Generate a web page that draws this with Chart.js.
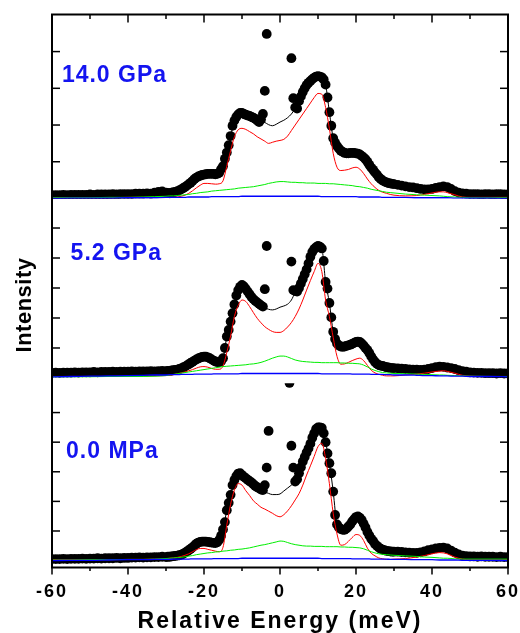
<!DOCTYPE html>
<html><head><meta charset="utf-8">
<script src="https://cdn.jsdelivr.net/npm/chart.js@4/dist/chart.umd.min.js"></script>
<style>html,body{margin:0;padding:0;background:#fff;}canvas{display:block;}</style>
</head><body>
<canvas id="c" width="520" height="633"></canvas>
<script>
// ---------------- DATA ----------------
const dotEnergy = [
 -60,-59,-58,-57,-56,-55,-54,-53,-52,-51,
 -50,-49,-48,-47,-46,-45,-44,-43,-42,-41,
 -40,-39,-38,-37,-36,-35,-34,-33,-32,-31,
 -30,-29.5,-29,-28.5,-28,-27.5,-27,-26.5,-26,-25.5,
 -25,-24.5,-24,-23.5,-23,-22.5,-22,-21.5,-21,-20.5,
 -20,-19.5,-19,-18.5,-18,-17.5,-17,-16.5,-16,-15.5,
 -15,-14.5,-14,-13.5,-13,-12.5,-12,-11.5,-11,-10.5,
 -10,-9.5,-9,-8.5,-8,-7.5,-7,-6.5,-6,-5.5,
 -5,-4.5,-4,-3.5,-3,-2.5,-2,-1.5,-1,-0.5,
 0,0.5,1,1.5,2,2.5,3,3.5,4,4.5,
 5,5.5,6,6.5,7,7.5,8,8.5,9,9.5,
 10,10.5,11,11.5,12,12.5,13,13.5,14,14.5,
 15,15.5,16,16.5,17,17.5,18,18.5,19,19.5,
 20,20.5,21,21.5,22,22.5,23,23.5,24,24.5,
 25,25.5,26,26.5,27,27.5,28,28.5,29,29.5,
 30,31,32,33,34,35,36,37,38,39,
 40,41,42,43,44,45,46,47,48,49,
 50,51,52,53,54,55,56,57,58,59,60
];
const lineEnergy = [
 -60,-55,-50,-45,-40,-36,-33,
 -30,-29,-28,-27,-26,-25,-24,-23,-22,-21,
 -20,-19,-18,-17,-16,-15,-14,-13,-12,-11,
 -10,-9,-8,-7,-6,-5,-4,-3,-2,-1,
 0,1,2,3,4,5,6,7,8,9,
 10,11,12,13,14,15,16,17,18,19,
 20,21,22,23,24,25,26,27,28,29,
 30,33,36,38,40,42,43,44,46,48,50,55,60
];
const panelLabels = ['14.0 GPa', '5.2 GPa', '0.0 MPa'];

// ----- 14.0 GPa -----
const dots14 = [
 0.09,0.09,0.09,0.10,0.09,0.10,0.10,0.10,0.10,0.10,
 0.11,0.10,0.11,0.11,0.11,0.11,0.12,0.11,0.12,0.12,
 0.12,0.12,0.13,0.13,0.13,0.14,0.13,0.16,0.18,0.19,
 0.16,0.15,0.14,0.16,0.17,0.18,0.20,0.22,0.25,0.28,
 0.31,0.35,0.39,0.43,0.48,0.53,0.57,0.60,0.62,0.64,
 0.65,0.66,0.67,0.67,0.67,0.67,0.66,0.67,0.70,0.80,
 0.88,1.08,1.25,1.45,1.70,1.98,2.12,2.22,2.29,2.33,
 2.33,2.30,2.28,2.26,2.25,2.22,2.20,2.17,2.12,2.08,
 2.15,2.30,2.93,4.48,null,null,null,null,null,null,
 null,null,null,null,null,null,3.82,2.73,2.48,2.45,
 2.65,2.78,2.90,3.00,3.09,3.15,3.20,3.25,3.29,3.32,
 3.33,3.32,3.30,3.24,3.10,2.75,2.35,1.98,1.64,1.52,
 1.43,1.36,1.30,1.27,1.24,1.23,1.23,1.24,1.24,1.24,
 1.23,1.22,1.20,1.16,1.12,1.07,1.00,0.92,0.84,0.78,
 0.71,0.65,0.58,0.53,0.49,0.46,0.44,0.42,0.41,0.40,
 0.39,0.37,0.35,0.33,0.31,0.30,0.28,0.26,0.25,0.25,
 0.26,0.29,0.31,0.33,0.31,0.26,0.20,0.16,0.14,0.13,
 0.12,0.12,0.12,0.11,0.12,0.12,0.11,0.12,0.12,0.11,0.11
];
const fit14 = [
 0.09,0.10,0.10,0.11,0.12,0.13,0.15,
 0.15,0.15,0.17,0.20,0.25,0.31,0.39,0.48,0.57,0.62,
 0.65,0.67,0.67,0.66,0.70,0.90,1.25,1.70,2.12,2.29,
 2.33,2.28,2.25,2.20,2.13,2.10,2.07,2.01,1.98,2.02,
 2.08,2.13,2.20,2.30,2.45,2.62,2.90,3.09,3.20,3.29,
 3.33,3.30,3.10,2.35,1.64,1.42,1.30,1.24,1.23,1.24,
 1.23,1.20,1.12,1.00,0.84,0.71,0.58,0.49,0.44,0.41,
 0.39,0.33,0.28,0.25,0.26,0.31,0.33,0.31,0.20,0.14,0.12,0.12,0.11
];
const red14 = [
 0.02,0.02,0.02,0.02,0.03,0.03,0.03,
 0.03,0.03,0.03,0.04,0.06,0.09,0.14,0.21,0.29,0.36,
 0.41,0.41,0.40,0.39,0.40,0.48,0.88,1.30,1.68,1.87,
 1.91,1.88,1.82,1.76,1.68,1.62,1.56,1.50,1.53,1.56,
 1.58,1.61,1.70,1.85,2.00,2.15,2.30,2.45,2.60,2.75,
 2.86,2.84,2.48,1.90,1.23,0.85,0.76,0.77,0.79,0.83,
 0.85,0.80,0.68,0.53,0.40,0.30,0.22,0.17,0.14,0.11,
 0.09,0.07,0.08,0.11,0.15,0.18,0.18,0.16,0.10,0.04,0.03,0.03,0.03
];
const green14 = [
 0.02,0.02,0.02,0.03,0.03,0.04,0.05,
 0.06,0.07,0.07,0.08,0.09,0.10,0.11,0.13,0.14,0.16,
 0.17,0.18,0.20,0.21,0.22,0.23,0.24,0.25,0.26,0.28,
 0.29,0.30,0.31,0.32,0.34,0.36,0.38,0.41,0.43,0.45,
 0.46,0.46,0.45,0.44,0.44,0.43,0.43,0.42,0.42,0.42,
 0.41,0.41,0.41,0.40,0.40,0.39,0.38,0.37,0.36,0.35,
 0.33,0.32,0.30,0.28,0.25,0.23,0.21,0.19,0.17,0.16,
 0.15,0.12,0.10,0.09,0.08,0.07,0.06,0.05,0.04,0.03,0.02,0.02,0.02
];
const blue14 = [
 0.00,0.01,0.01,0.01,0.02,0.02,0.02,
 0.03,0.03,0.03,0.03,0.03,0.03,0.04,0.04,0.04,0.04,
 0.04,0.04,0.05,0.05,0.05,0.05,0.05,0.05,0.05,0.05,
 0.06,0.06,0.06,0.06,0.06,0.06,0.06,0.06,0.06,0.06,
 0.06,0.06,0.06,0.06,0.06,0.06,0.06,0.06,0.06,0.06,
 0.06,0.05,0.05,0.05,0.05,0.05,0.05,0.05,0.05,0.05,
 0.05,0.04,0.04,0.04,0.04,0.04,0.04,0.03,0.03,0.03,
 0.03,0.03,0.02,0.02,0.02,0.02,0.02,0.02,0.01,0.01,0.01,0.01,0.00
];

// ----- 5.2 GPa -----
const dots52 = [
 0.17,0.18,0.17,0.18,0.18,0.18,0.19,0.18,0.19,0.19,
 0.19,0.20,0.19,0.20,0.20,0.20,0.21,0.20,0.21,0.21,
 0.21,0.22,0.21,0.22,0.22,0.22,0.23,0.22,0.23,0.24,
 0.23,0.24,0.24,0.25,0.26,0.27,0.28,0.30,0.32,0.35,
 0.38,0.42,0.46,0.50,0.54,0.58,0.62,0.65,0.68,0.70,
 0.71,0.71,0.69,0.66,0.62,0.58,0.55,0.53,0.52,0.56,
 0.66,1.00,1.38,1.60,1.88,2.16,2.45,2.75,2.93,3.04,
 3.10,3.05,2.97,2.88,2.79,2.70,2.63,2.57,2.52,2.47,
 2.42,2.38,2.96,4.40,null,null,null,null,null,null,
 null,null,null,null,null,null,3.88,2.93,2.90,2.88,
 3.00,3.15,3.30,3.46,3.62,3.82,4.04,4.20,4.30,4.36,
 4.40,4.38,4.32,3.90,3.20,2.98,2.50,2.02,1.54,1.30,
 1.15,1.08,1.05,1.04,1.05,1.07,1.09,1.11,1.14,1.17,
 1.20,1.21,1.20,1.15,1.08,1.00,0.93,0.83,0.72,0.62,
 0.53,0.47,0.43,0.41,0.40,0.38,0.36,0.35,0.34,0.33,
 0.33,0.32,0.31,0.30,0.29,0.28,0.28,0.27,0.28,0.30,
 0.33,0.36,0.38,0.37,0.35,0.33,0.30,0.26,0.23,0.21,
 0.19,0.18,0.17,0.17,0.16,0.16,0.16,0.15,0.16,0.15,0.15
];
const fit52 = [
 0.17,0.18,0.19,0.20,0.21,0.22,0.22,
 0.23,0.24,0.26,0.28,0.32,0.38,0.46,0.54,0.62,0.68,
 0.71,0.69,0.62,0.55,0.52,0.66,1.38,1.88,2.45,2.93,
 3.10,2.97,2.79,2.63,2.52,2.42,2.34,2.29,2.27,2.30,
 2.36,2.40,2.46,2.60,2.85,3.00,3.30,3.62,4.04,4.30,
 4.40,4.32,3.20,2.50,1.54,1.15,1.05,1.05,1.09,1.14,
 1.20,1.20,1.08,0.93,0.72,0.53,0.43,0.40,0.36,0.34,
 0.33,0.30,0.28,0.28,0.33,0.38,0.37,0.35,0.30,0.23,0.19,0.16,0.15
];
const red52 = [
 0.05,0.05,0.05,0.05,0.06,0.06,0.07,
 0.08,0.09,0.11,0.14,0.17,0.20,0.24,0.28,0.33,0.37,
 0.38,0.36,0.32,0.29,0.29,0.40,0.85,1.40,2.05,2.42,
 2.60,2.55,2.38,2.18,1.99,1.84,1.71,1.62,1.55,1.52,
 1.52,1.58,1.70,1.85,2.05,2.30,2.60,2.93,3.25,3.55,
 3.82,3.55,2.60,2.05,1.35,0.72,0.46,0.47,0.52,0.58,
 0.63,0.66,0.58,0.42,0.26,0.17,0.12,0.09,0.07,0.07,
 0.07,0.10,0.13,0.16,0.20,0.23,0.24,0.22,0.16,0.09,0.06,0.05,0.05
];
const green52 = [
 0.04,0.04,0.04,0.05,0.05,0.05,0.06,
 0.08,0.10,0.12,0.14,0.16,0.18,0.20,0.22,0.24,0.26,
 0.28,0.30,0.32,0.34,0.36,0.38,0.39,0.40,0.41,0.42,
 0.43,0.44,0.46,0.47,0.49,0.52,0.56,0.61,0.66,0.70,
 0.73,0.73,0.70,0.65,0.60,0.57,0.55,0.54,0.53,0.52,
 0.52,0.51,0.51,0.51,0.51,0.51,0.50,0.50,0.49,0.49,
 0.48,0.47,0.43,0.37,0.30,0.25,0.21,0.18,0.17,0.16,
 0.15,0.14,0.13,0.12,0.11,0.10,0.10,0.09,0.08,0.07,0.06,0.05,0.05
];
const blue52 = [
 0.04,0.05,0.06,0.07,0.08,0.09,0.10,
 0.10,0.11,0.11,0.11,0.12,0.12,0.12,0.12,0.13,0.13,
 0.13,0.13,0.13,0.14,0.14,0.14,0.14,0.14,0.14,0.14,
 0.15,0.15,0.15,0.15,0.15,0.15,0.15,0.15,0.15,0.15,
 0.15,0.15,0.15,0.15,0.15,0.15,0.15,0.15,0.15,0.15,
 0.15,0.14,0.14,0.14,0.14,0.14,0.14,0.14,0.14,0.13,
 0.13,0.13,0.13,0.13,0.12,0.12,0.12,0.12,0.11,0.11,
 0.10,0.10,0.09,0.08,0.08,0.07,0.07,0.07,0.06,0.06,0.05,0.05,0.04
];

// ----- 0.0 MPa -----
const dots00 = [
 0.05,0.05,0.05,0.06,0.05,0.06,0.06,0.06,0.07,0.06,
 0.07,0.07,0.08,0.07,0.08,0.08,0.08,0.09,0.08,0.09,
 0.09,0.10,0.10,0.11,0.10,0.11,0.11,0.12,0.12,0.13,
 0.12,0.13,0.13,0.14,0.15,0.16,0.17,0.18,0.20,0.23,
 0.27,0.31,0.35,0.40,0.45,0.51,0.57,0.61,0.63,0.64,
 0.64,0.64,0.63,0.62,0.61,0.60,0.59,0.62,0.70,0.84,
 1.05,1.30,1.70,1.95,2.22,2.55,2.72,2.85,2.94,2.95,
 2.89,2.83,2.78,2.73,2.68,2.64,2.58,2.52,2.48,2.44,
 2.40,2.38,2.55,3.14,4.38,null,null,null,null,null,
 null,null,null,null,null,6.00,3.88,3.14,2.67,2.75,
 2.95,3.15,3.35,3.50,3.65,3.79,3.95,4.15,4.30,4.45,
 4.50,4.50,4.48,4.30,4.00,3.62,3.29,2.95,2.33,1.54,
 1.22,1.12,1.07,1.04,1.04,1.08,1.15,1.22,1.32,1.40,
 1.47,1.49,1.45,1.37,1.25,1.12,0.97,0.85,0.74,0.66,
 0.56,0.50,0.44,0.40,0.37,0.35,0.33,0.32,0.31,0.30,
 0.30,0.30,0.29,0.28,0.27,0.26,0.26,0.28,0.31,0.35,
 0.38,0.41,0.43,0.44,0.41,0.34,0.27,0.21,0.17,0.15,
 0.14,0.14,0.13,0.14,0.13,0.13,0.13,0.12,0.13,0.12,0.12
];
const fit00 = [
 0.05,0.06,0.07,0.08,0.09,0.10,0.12,
 0.12,0.13,0.15,0.17,0.20,0.27,0.35,0.45,0.57,0.63,
 0.64,0.63,0.61,0.59,0.70,1.05,1.70,2.22,2.72,2.94,
 2.89,2.78,2.68,2.58,2.48,2.40,2.32,2.27,2.23,2.23,
 2.25,2.35,2.45,2.55,2.67,2.95,3.35,3.65,3.95,4.30,
 4.50,4.48,4.00,3.29,2.33,1.22,1.07,1.04,1.15,1.32,
 1.47,1.45,1.25,0.97,0.74,0.56,0.44,0.37,0.33,0.31,
 0.30,0.28,0.26,0.31,0.38,0.43,0.44,0.41,0.27,0.17,0.14,0.13,0.12
];
const red00 = [
 0.03,0.03,0.03,0.03,0.04,0.04,0.05,
 0.06,0.08,0.09,0.11,0.14,0.18,0.23,0.30,0.37,0.41,
 0.41,0.38,0.35,0.32,0.30,0.45,1.20,1.90,2.38,2.60,
 2.55,2.36,2.20,2.02,1.91,1.80,1.74,1.67,1.60,1.52,
 1.48,1.55,1.68,1.85,2.05,2.26,2.55,2.89,3.20,3.52,
 3.85,3.96,3.45,2.60,1.60,0.90,0.52,0.54,0.65,0.78,
 0.88,0.85,0.68,0.42,0.25,0.16,0.09,0.06,0.04,0.04,
 0.05,0.07,0.12,0.17,0.23,0.27,0.26,0.23,0.12,0.05,0.03,0.03,0.03
];
const green00 = [
 0.02,0.02,0.03,0.03,0.04,0.04,0.05,
 0.07,0.08,0.09,0.10,0.11,0.13,0.15,0.17,0.20,0.22,
 0.24,0.26,0.27,0.29,0.30,0.32,0.33,0.35,0.36,0.38,
 0.39,0.41,0.43,0.46,0.49,0.52,0.54,0.57,0.60,0.63,
 0.66,0.65,0.61,0.57,0.54,0.52,0.50,0.49,0.49,0.48,
 0.48,0.48,0.47,0.47,0.47,0.47,0.46,0.46,0.45,0.45,
 0.44,0.43,0.40,0.35,0.30,0.26,0.23,0.21,0.20,0.19,
 0.18,0.16,0.14,0.12,0.11,0.09,0.08,0.08,0.06,0.05,0.05,0.05,0.05
];
const blue00 = [
 0.00,0.01,0.01,0.02,0.03,0.03,0.04,
 0.04,0.04,0.05,0.05,0.05,0.05,0.05,0.06,0.06,0.06,
 0.06,0.06,0.06,0.07,0.07,0.07,0.07,0.07,0.07,0.07,
 0.08,0.08,0.08,0.08,0.08,0.08,0.08,0.08,0.08,0.08,
 0.08,0.08,0.08,0.08,0.08,0.08,0.08,0.08,0.08,0.08,
 0.08,0.07,0.07,0.07,0.07,0.07,0.07,0.07,0.07,0.06,
 0.06,0.06,0.06,0.06,0.05,0.05,0.05,0.05,0.05,0.04,
 0.04,0.04,0.03,0.03,0.03,0.02,0.02,0.02,0.02,0.01,0.01,0.01,0.00
];

const xTickStep = 10;

// ---------------- BUILD ----------------
const FONT = '"Liberation Sans", Arial, Helvetica, sans-serif';
const panels = [
  {axis: 'yTop', label: panelLabels[0], dots: dots14, fit: fit14, red: red14, green: green14, blue: blue14,
   range: [-0.01, 5.01], labelAt: [-57.4, 3.16]},
  {axis: 'yMid', label: panelLabels[1], dots: dots52, fit: fit52, red: red52, green: green52, blue: blue52,
   range: [-0.173, 5.973], labelAt: [-55.1, 3.93]},
  {axis: 'yBot', label: panelLabels[2], dots: dots00, fit: fit00, red: red00, green: green00, blue: blue00,
   range: [-0.233, 5.993], labelAt: [-56.3, 3.46]}
];

function pairs(xs, ys) {
  const out = [];
  for (let i = 0; i < xs.length; i++) if (ys[i] !== null && ys[i] !== undefined) out.push({x: xs[i], y: ys[i]});
  return out;
}
const datasets = [];
panels.forEach(p => {
  const lineDs = (vals, color, w) => ({
    data: pairs(lineEnergy, vals), yAxisID: p.axis, showLine: true, pointRadius: 0,
    borderColor: color, borderWidth: w, cubicInterpolationMode: 'monotone', order: 0
  });
  datasets.push(lineDs(p.blue, '#0000ff', 1.3));
  datasets.push(lineDs(p.green, '#00ee00', 1));
  datasets.push(lineDs(p.red, '#ff0000', 1));
  datasets.push(lineDs(p.fit, '#000000', 1));
  datasets.push({
    data: pairs(dotEnergy, p.dots), yAxisID: p.axis, showLine: false,
    pointRadius: 4.9, pointBorderWidth: 0, backgroundColor: '#000', borderColor: '#000', order: 1
  });
});

const scales = {
  x: {
    type: 'linear', min: -60, max: 60, position: 'bottom',
    grid: {display: false, drawTicks: false}, border: {display: false},
    ticks: {stepSize: xTickStep, autoSkip: false, maxRotation: 0, padding: 14, color: '#000',
      font: {family: FONT, size: 18, weight: 'bold'},
      callback: v => (v % 20 === 0 ? String(v) : '')},
    title: {display: true, text: 'Relative Energy (meV)', color: '#000', padding: {top: 0, bottom: 0},
      font: {family: FONT, size: 23, weight: 'bold', lineHeight: 1}},
    afterFit: s => { s.height = 65.5; s.paddingLeft = 0; s.paddingRight = 0; }
  }
};
// stacked y axes; last-defined is placed on top
[...panels].reverse().forEach((p, i) => {
  scales[p.axis] = {
    type: 'linear', position: 'left', stack: 'panels', stackWeight: 1, weight: i + 1,
    min: p.range[0], max: p.range[1], offset: false,
    grid: {display: false, drawTicks: false}, border: {display: false},
    ticks: {display: false, stepSize: 1},
    afterFit: s => { s.width = 0; s.paddingTop = 0; s.paddingBottom = 0; }
  };
});

const decor = {
  id: 'decor',
  beforeDraw(chart) { chart.ctx.letterSpacing = '2px'; },
  afterDraw(chart) {
    const {ctx, chartArea: a, scales: sc} = chart;
    ctx.save();
    ctx.letterSpacing = '0px';
    ctx.strokeStyle = '#000';
    const seg = (x1, y1, x2, y2) => { ctx.beginPath(); ctx.moveTo(x1, y1); ctx.lineTo(x2, y2); ctx.stroke(); };
    ctx.lineWidth = 1.5;
    panels.forEach(p => {
      const s = sc[p.axis];
      s.ticks.forEach(t => {
        if (!Number.isInteger(t.value)) return;
        const y = s.getPixelForValue(t.value);
        if (y < a.top + 3 || y > a.bottom - 3) return;
        seg(a.left, y, a.left + 8, y);
        seg(a.right, y, a.right - 8, y);
      });
    });
    const xs = sc.x;
    xs.ticks.forEach(t => {
      const x = xs.getPixelForValue(t.value);
      const major = t.value % 20 === 0;
      seg(x, a.top, x, a.top + (major ? 8 : 4.5));
      seg(x, a.bottom, x, a.bottom + (major ? 7 : 3.5));
    });
    ctx.lineWidth = 2;
    ctx.strokeRect(a.left, a.top, a.right - a.left, a.bottom - a.top);
    // panel labels
    ctx.fillStyle = '#1414f0';
    ctx.font = 'bold 23px ' + FONT;
    ctx.letterSpacing = '1px';
    ctx.textAlign = 'left';
    ctx.textBaseline = 'alphabetic';
    panels.forEach(p => {
      ctx.fillText(p.label, xs.getPixelForValue(p.labelAt[0]), sc[p.axis].getPixelForValue(p.labelAt[1]));
    });
    // y title
    ctx.fillStyle = '#000';
    ctx.letterSpacing = '0.5px';
    ctx.font = 'bold 22px ' + FONT;
    ctx.textAlign = 'center';
    ctx.translate(31, (a.top + a.bottom) / 2 + 14);
    ctx.rotate(-Math.PI / 2);
    ctx.fillText('Intensity', 0, 0);
    ctx.restore();
  }
};

new Chart(document.getElementById('c'), {
  type: 'scatter',
  data: {datasets},
  options: {
    responsive: false, animation: false, devicePixelRatio: 1, events: [],
    layout: {padding: {left: 52, right: 12, top: 14.5, bottom: 0}},
    plugins: {legend: {display: false}, tooltip: {enabled: false}},
    scales
  },
  plugins: [decor]
});
</script>
</body></html>
